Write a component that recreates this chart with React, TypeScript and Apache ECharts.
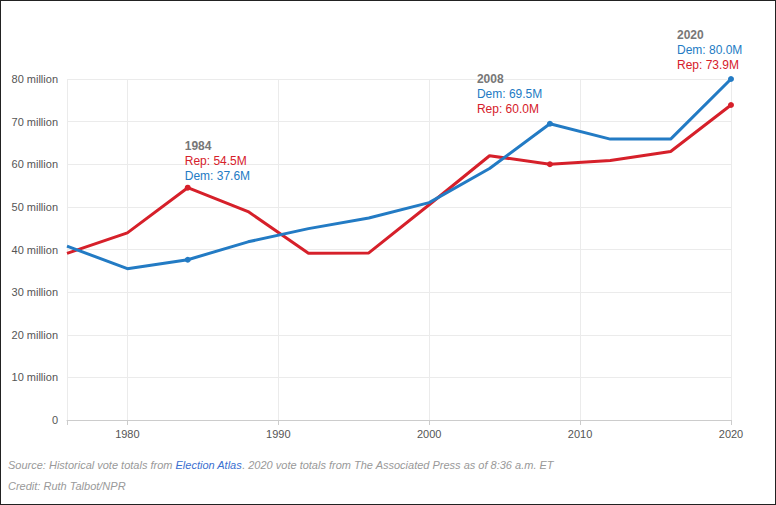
import React, { useEffect, useRef } from "react";
import * as echarts from "echarts";

const years = [1976, 1980, 1984, 1988, 1992, 1996, 2000, 2004, 2008, 2012, 2016, 2020];
const demVotes = [40.8, 35.5, 37.6, 41.8, 44.9, 47.4, 51.0, 59.0, 69.5, 65.9, 65.9, 80.0];
const repVotes = [39.1, 43.9, 54.5, 48.9, 39.1, 39.2, 50.5, 62.0, 60.0, 60.9, 63.0, 73.9];
const xTickLabels = [1980, 1990, 2000, 2010, 2020];
const xTicks = [1976, 1980, 1990, 2000, 2010, 2020];
const highlightYears = [1984, 2008, 2020];

const BLUE = "#237bc4";
const RED = "#d6202a";
const NARROW = "'Liberation Sans', Arial, sans-serif";
const SANS = "'Liberation Sans', Arial, sans-serif";

const richStyles = {
  y: { fontFamily: SANS, fontSize: 12, fontWeight: "bold", color: "#777", lineHeight: 15 },
  d: { fontFamily: SANS, fontSize: 12, color: BLUE, lineHeight: 15 },
  r: { fontFamily: SANS, fontSize: 12, color: RED, lineHeight: 15 },
};

function fmt(v: number) {
  return v.toFixed(1) + "M";
}

export default function App() {
  const ref = useRef<HTMLDivElement>(null);
  useEffect(() => {
    document.body.style.margin = "0";
    const chart = echarts.init(ref.current!, null, { renderer: "svg" });

    const labelFor = (year: number, series: "dem" | "rep") => {
      const i = years.indexOf(year);
      const d = demVotes[i];
      const r = repVotes[i];
      if (year === 1984 && series === "rep") {
        return {
          show: true,
          position: "top",
          distance: 0,
          align: "left",
          offset: [-3, -1],
          formatter: `{y|${year}}\n{r|Rep: ${fmt(r)}}\n{d|Dem: ${fmt(d)}}`,
          rich: richStyles,
        };
      }
      if ((year === 2008 || year === 2020) && series === "dem") {
        return {
          show: true,
          position: "top",
          distance: 0,
          align: "left",
          offset: year === 2008 ? [-73, -4] : [-54, -4],
          formatter: `{y|${year}}\n{d|Dem: ${fmt(d)}}\n{r|Rep: ${fmt(r)}}`,
          rich: richStyles,
        };
      }
      return undefined;
    };

    const makeData = (vals: number[], series: "dem" | "rep") =>
      years.map((y, i) => {
        const hl = highlightYears.includes(y);
        const item: any = { value: [y, vals[i]] };
        if (hl) {
          item.symbol = "circle";
          item.symbolSize = 6;
          const lab = labelFor(y, series);
          if (lab) item.label = lab;
        }
        return item;
      });

    chart.setOption({
      animation: false,
      grid: { left: 67, right: 45, top: 79, bottom: 85, containLabel: false },
      xAxis: {
        type: "value",
        min: 1976,
        max: 2020,
        axisLine: { show: true, lineStyle: { color: "#ccc" } },
        axisTick: { show: true, customValues: xTicks, length: 5, lineStyle: { color: "#ccc" } },
        axisLabel: {
          customValues: xTickLabels,
          color: "#555",
          fontFamily: NARROW,
          fontSize: 11,
          margin: 8,
          formatter: (v: number) => String(v),
        },
        splitLine: { show: true, customValues: xTickLabels, lineStyle: { color: "#ebebeb" } },
      },
      yAxis: {
        type: "value",
        min: 0,
        max: 80,
        interval: 10,
        axisLine: { show: false },
        axisTick: { show: false },
        axisLabel: {
          color: "#555",
          fontFamily: NARROW,
          fontSize: 11,
          margin: 9,
          formatter: (v: number) => (v === 0 ? "0" : v + " million"),
        },
        splitLine: { show: true, lineStyle: { color: "#ebebeb" } },
      },
      series: [
        {
          name: "Dem",
          type: "line",
          symbol: "none",
          showSymbol: true,
          data: makeData(demVotes, "dem"),
          lineStyle: { color: BLUE, width: 3 },
          itemStyle: { color: BLUE },
          label: { show: false },
          z: 3,
        },
        {
          name: "Rep",
          type: "line",
          symbol: "none",
          showSymbol: true,
          data: makeData(repVotes, "rep"),
          lineStyle: { color: RED, width: 3 },
          itemStyle: { color: RED },
          label: { show: false },
          z: 2,
        },
      ],
      graphic: [
        {
          type: "text",
          left: 8,
          top: 459,
          style: {
            text: "{s|Source: Historical vote totals from }{l|Election Atlas}{s|. 2020 vote totals from The Associated Press as of 8:36 a.m. ET}",
            rich: {
              s: { fontFamily: SANS, fontSize: 11, fontStyle: "italic", fill: "#999" },
              l: { fontFamily: SANS, fontSize: 11, fontStyle: "italic", fill: "#3a6fd0" },
            },
          },
        },
        {
          type: "text",
          left: 8,
          top: 480,
          style: {
            text: "Credit: Ruth Talbot/NPR",
            fontFamily: SANS,
            fontSize: 11,
            fontStyle: "italic",
            fill: "#999",
          },
        },
      ],
    });
    return () => chart.dispose();
  }, []);

  return (
    <div
      style={{
        position: "absolute",
        left: 0,
        top: 0,
        width: 776,
        height: 505,
        boxSizing: "border-box",
        border: "1px solid #222",
        background: "#fff",
      }}
    >
      <div ref={ref} style={{ position: "absolute", left: -1, top: -1, width: 776, height: 505 }} />
    </div>
  );
}
